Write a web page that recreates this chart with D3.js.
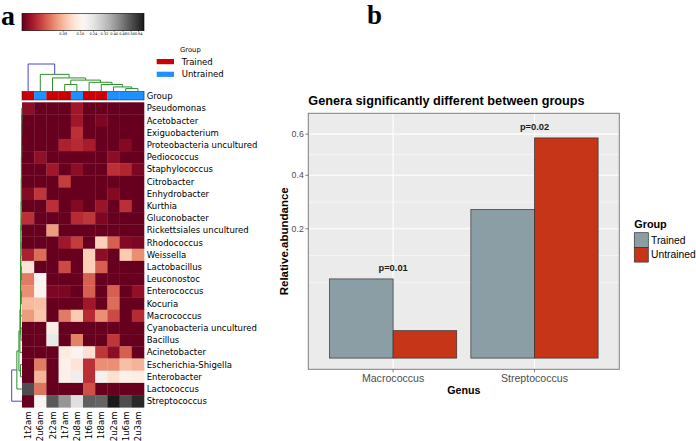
<!DOCTYPE html>
<html><head><meta charset="utf-8">
<script src="https://cdn.jsdelivr.net/npm/d3@7"></script>
<style>body{margin:0;background:#fff} svg{display:block}</style>
</head><body>
<svg id="c" width="696" height="441"></svg>
<script>
// ---------------- Panel a data ----------------
const genera = ["Pseudomonas","Acetobacter","Exiguobacterium","Proteobacteria uncultured","Pediococcus","Staphylococcus","Citrobacter","Enhydrobacter","Kurthia","Gluconobacter","Rickettsiales uncultured","Rhodococcus","Weissella","Lactobacillus","Leuconostoc","Enterococcus","Kocuria","Macrococcus","Cyanobacteria uncultured","Bacillus","Acinetobacter","Escherichia-Shigella","Enterobacter","Lactococcus","Streptococcus"];
const samples = ["1t2am","2u6am","2t2am","1t7am","2u8am","1t6am","1t8am","2u2am","1u6am","2u3am"];
const sampleGroup = ["Trained","Untrained","Trained","Trained","Untrained","Trained","Trained","Untrained","Untrained","Untrained"];
const groupNames = ["Trained","Untrained"];
const abundance = [
  [0.0018,0,0,0,0.0045,0,0,0,0,0],
  [0,0,0,0,0.0045,0,0.0006,0,0,0],
  [0,0,0,0,0.0118,0,0,0,0,0],
  [0,0,0,0.007,0.010,0.0057,0,0,0.0011,0],
  [0,0.0025,0,0,0,0,0,0.0018,0,0],
  [0,0,0.0045,0,0.0018,0,0,0.0118,0.0085,0.0006],
  [0,0,0,0.0158,0,0,0,0,0,0],
  [0.0011,0.0137,0,0,0,0,0,0.0011,0,0],
  [0,0,0.0118,0,0.0011,0,0.0034,0,0.0118,0],
  [0.0118,0,0,0,0.010,0.0137,0.0006,0,0,0],
  [0,0,0.0589,0,0,0,0,0,0,0],
  [0,0,0,0.0045,0.0158,0,0.101,0.028,0.0011,0.0006],
  [0.007,0.0339,0,0,0,0.101,0.0018,0,0.0958,0.051],
  [0.129,0,0,0.0202,0,0.101,0.028,0,0,0],
  [0.0403,0.168,0,0,0,0.028,0,0,0,0],
  [0.051,0.168,0.0006,0.0006,0,0.028,0,0.028,0,0.0025],
  [0.0809,0.0858,0,0,0,0.0045,0,0.0339,0,0],
  [0.0589,0.0907,0,0.0403,0.0958,0.010,0.051,0.0202,0,0.010],
  [0,0,0.148,0,0,0,0,0,0,0],
  [0,0,0.227,0,0.0438,0,0,0.0137,0,0],
  [0,0,0,0.142,0.168,0.123,0.0137,0.0018,0.028,0],
  [0,0.0403,0,0.155,0.129,0.0118,0.051,0.051,0.0858,0.0762],
  [0,0.0762,0,0.155,0.212,0.0118,0.197,0.123,0.155,0.148],
  [0.567,0.037,0,0,0,0.0227,0,0,0,0],
  [0,0.175,0.542,0.415,0.252,0.530,0.518,0.70,0.567,0.659]
];
const colorbarTicks = [0.08,0.16,0.24,0.32,0.40,0.48,0.56,0.64];
const colorbarMax = 0.7;
// linkage rows: [childA, childB, height]; new nodes numbered after leaves
const colLinks = [[8,9,0.10],[7,10,0.16],[6,11,0.25],[3,4,0.25],[5,12,0.33],[13,14,0.41],[2,15,0.49],[1,16,0.62],[0,17,1.0]];
const rowLinks = [[0,1,0.02],[25,2,0.03],[3,4,0.03],[26,27,0.04],[5,6,0.04],[28,29,0.05],[7,8,0.04],[30,31,0.06],[9,10,0.06],[32,33,0.07],[11,12,0.08],[34,35,0.09],[13,14,0.08],[15,16,0.07],[37,38,0.1],[36,39,0.11],[17,40,0.13],[18,19,0.1],[41,42,0.15],[20,43,0.2],[21,22,0.15],[44,45,0.3],[23,46,0.5],[24,47,1.0]];

// ---------------- Panel b data ----------------
const genusB = ["Macrococcus","Streptococcus"];
const trainedMean = [0.075, 0.264];
const untrainedMean = [0.009, 0.580];
const pLabels = ["p=0.01","p=0.02"];
const yTicksB = [0.2, 0.4, 0.6];
const groupColors = {Trained:"#8b9da5", Untrained:"#c73518"};
const heatGroupColors = {Trained:"#cc0000", Untrained:"#1e90ff"};

const svg = d3.select("#c");
const SANS_A = "DejaVu Sans";
const SANS_B = "Liberation Sans, Arial, sans-serif";

// ===== Panel letters =====
svg.append("text").attr("x",1).attr("y",25.2).attr("font-family","Liberation Serif").attr("font-weight","bold").attr("font-size",28).text("a");
svg.append("text").attr("x",367).attr("y",24.4).attr("font-family","Liberation Serif").attr("font-weight","bold").attr("font-size",27).text("b");

// ===== Panel a =====
const A = svg.append("g");
const hmX = d3.scaleBand().domain(samples).range([22,144]);
const hmY = d3.scaleBand().domain(genera).range([102.3,407.3]);
const heatColor = d3.scaleSequentialSqrt(d3.interpolateRdGy).domain([0, colorbarMax]);

// colorbar
const cbX = d3.scaleSqrt().domain([0, colorbarMax]).range([22,144]);
const defs = svg.append("defs");
const grad = defs.append("linearGradient").attr("id","cbg").attr("x1","0%").attr("x2","100%");
d3.range(0,1.0001,0.02).forEach(t=>grad.append("stop").attr("offset",(t*100)+"%").attr("stop-color",d3.interpolateRdGy(t)));
A.append("rect").attr("x",cbX(0)).attr("y",13.3).attr("width",cbX(colorbarMax)-cbX(0)).attr("height",17.4)
  .attr("fill","url(#cbg)").attr("stroke","#000").attr("stroke-width",0.6);
colorbarTicks.forEach(v=>{
  A.append("line").attr("x1",cbX(v)).attr("x2",cbX(v)).attr("y1",30.7).attr("y2",32.2).attr("stroke","#000").attr("stroke-width",0.4);
  A.append("text").attr("x",cbX(v)).attr("y",35.2).attr("text-anchor","middle").attr("font-family",SANS_A).attr("font-size",3.5).text(v.toFixed(2));
});

// group legend
A.append("text").attr("x",180).attr("y",51.5).attr("font-family",SANS_A).attr("font-size",6.8).text("Group");
groupNames.forEach((g,i)=>{
  const yy = 59 + i*12.7;
  A.append("rect").attr("x",156.7).attr("y",yy).attr("width",17.3).attr("height",5.2).attr("fill",heatGroupColors[g]);
  A.append("text").attr("x",181.7).attr("y",yy+2.6).attr("dy","0.36em").attr("font-family",SANS_A).attr("font-size",8.5).text(g);
});

// group row
samples.forEach((s,c)=>{
  A.append("rect").attr("x",hmX(s)).attr("y",91.3).attr("width",hmX.bandwidth()+0.2).attr("height",8.7).attr("fill",heatGroupColors[sampleGroup[c]]);
});
A.append("rect").attr("x",22).attr("y",91.3).attr("width",122).attr("height",8.7).attr("fill","none").attr("stroke","#223").attr("stroke-width",0.5);
A.append("text").attr("x",146.7).attr("y",95.6).attr("dy","0.36em").attr("font-family",SANS_A).attr("font-size",8.5).text("Group");

// heatmap cells
abundance.forEach((row,r)=>{
  row.forEach((v,c)=>{
    A.append("rect").attr("x",hmX(samples[c])).attr("y",hmY(genera[r]))
      .attr("width",hmX.bandwidth()+0.3).attr("height",hmY.bandwidth()+0.3).attr("fill",heatColor(v));
  });
});
// row labels
genera.forEach(g=>{
  A.append("text").attr("x",146.7).attr("y",hmY(g)+hmY.bandwidth()/2).attr("dy","0.36em")
    .attr("font-family",SANS_A).attr("font-size",8.5).text(g);
});
// column labels
samples.forEach(s=>{
  A.append("text").attr("transform",`translate(${hmX(s)+hmX.bandwidth()/2},411.5) rotate(-90)`)
    .attr("dy","0.36em").attr("text-anchor","end").attr("font-family",SANS_A).attr("font-size",8.5).text(s);
});

// dendrograms
function dendro(links, nLeaves, leafPos, hScale, vertical){
  const pos = [], ht = [];
  for(let i=0;i<nLeaves;i++){pos[i]=leafPos(i); ht[i]=0;}
  links.forEach((l,k)=>{
    const [a,b,h] = l, id = nLeaves+k;
    pos[id] = (pos[a]+pos[b])/2; ht[id]=h;
    const col = (k===links.length-1) ? "#4646cc" : "#2a8f2a";
    let d;
    if(vertical){
      d = `M${pos[a]},${hScale(ht[a])}V${hScale(h)}H${pos[b]}V${hScale(ht[b])}`;
    } else {
      d = `M${hScale(ht[a])},${pos[a]}H${hScale(h)}V${pos[b]}H${hScale(ht[b])}`;
    }
    A.append("path").attr("d",d).attr("fill","none").attr("stroke",col).attr("stroke-width",1);
  });
}
dendro(colLinks, samples.length, i=>hmX(samples[i])+hmX.bandwidth()/2, d3.scaleLinear().domain([0,1]).range([91.3,64]), true);
dendro(rowLinks, genera.length, i=>hmY(genera[i])+hmY.bandwidth()/2, d3.scaleLinear().domain([0,1]).range([22,11.7]), false);

// ===== Panel b =====
const B = svg.append("g");
const px0=308.3, px1=619.3, py0=113.3, py1=369.3;
const yB = d3.scaleSqrt().domain([-0.0015, 0.717]).range([py1, py0]);
const xB = d3.scaleLinear().domain([0.4, 2.6]).range([px0, px1]);

B.append("rect").attr("x",px0).attr("y",py0).attr("width",px1-px0).attr("height",py1-py0).attr("fill","#ebebeb");
// minor breaks (ggplot rule, computed in sqrt space)
const tb = yTicksB.map(Math.sqrt);
const bd = tb[1]-tb[0];
const ext = [tb[0]-bd, ...tb, tb[tb.length-1]+bd];
const minorT = [];
for(let i=0;i<ext.length-1;i++){ minorT.push((ext[i]+ext[i+1])/2); }
minorT.push(ext[0]);
const tLo = Math.sqrt(Math.max(0,yB.domain()[0])), tHi = Math.sqrt(yB.domain()[1]);
minorT.filter(t=>t>tLo && t<tHi).forEach(t=>{
  const yy = yB(t*t);
  B.append("line").attr("x1",px0).attr("x2",px1).attr("y1",yy).attr("y2",yy).attr("stroke","#fff").attr("stroke-width",0.55);
});
yTicksB.forEach(v=>{
  B.append("line").attr("x1",px0).attr("x2",px1).attr("y1",yB(v)).attr("y2",yB(v)).attr("stroke","#fff").attr("stroke-width",1.1);
});
genusB.forEach((g,i)=>{
  B.append("line").attr("x1",xB(i+1)).attr("x2",xB(i+1)).attr("y1",py0).attr("y2",py1).attr("stroke","#fff").attr("stroke-width",1.1);
});
// bars
const dodge = 0.45;
genusB.forEach((g,i)=>{
  const c = i+1;
  B.append("rect").attr("x",xB(c-dodge)).attr("y",yB(trainedMean[i])).attr("width",xB(c)-xB(c-dodge)).attr("height",yB(0)-yB(trainedMean[i]))
    .attr("fill",groupColors.Trained).attr("stroke","#333").attr("stroke-width",0.7);
  B.append("rect").attr("x",xB(c)).attr("y",yB(untrainedMean[i])).attr("width",xB(c+dodge)-xB(c)).attr("height",yB(0)-yB(untrainedMean[i]))
    .attr("fill",groupColors.Untrained).attr("stroke","#333").attr("stroke-width",0.7);
  const top = Math.max(trainedMean[i], untrainedMean[i]);
  B.append("text").attr("x",xB(c)).attr("y",yB(top)-8.3).attr("text-anchor","middle")
    .attr("font-family",SANS_B).attr("font-weight","bold").attr("font-size",9.3).attr("fill","#1a1a1a").text(pLabels[i]);
});
B.append("rect").attr("x",px0).attr("y",py0).attr("width",px1-px0).attr("height",py1-py0).attr("fill","none").attr("stroke","#7f7f7f").attr("stroke-width",1);
// y axis
yTicksB.forEach(v=>{
  B.append("line").attr("x1",px0-3).attr("x2",px0).attr("y1",yB(v)).attr("y2",yB(v)).attr("stroke","#333").attr("stroke-width",0.6);
  B.append("text").attr("x",px0-4.5).attr("y",yB(v)).attr("dy","0.35em").attr("text-anchor","end")
    .attr("font-family",SANS_B).attr("font-size",8.8).attr("fill","#4d4d4d").text(v.toFixed(1));
});
// x axis
genusB.forEach((g,i)=>{
  B.append("line").attr("x1",xB(i+1)).attr("x2",xB(i+1)).attr("y1",py1).attr("y2",py1+3).attr("stroke","#333").attr("stroke-width",0.6);
  B.append("text").attr("x",xB(i+1)).attr("y",381.6).attr("text-anchor","middle")
    .attr("font-family",SANS_B).attr("font-size",10.6).attr("fill","#4d4d4d").text(g);
});
B.append("text").attr("x",(px0+px1)/2).attr("y",394.4).attr("text-anchor","middle")
  .attr("font-family",SANS_B).attr("font-weight","bold").attr("font-size",10.7).attr("fill","#000").text("Genus");
B.append("text").attr("transform",`translate(288.3,${(py0+py1)/2}) rotate(-90)`).attr("text-anchor","middle")
  .attr("font-family",SANS_B).attr("font-weight","bold").attr("font-size",11.5).attr("fill","#000").text("Relative.abundance");
B.append("text").attr("x",px0).attr("y",105).attr("font-family",SANS_B).attr("font-weight","bold").attr("font-size",12.7).attr("fill","#000")
  .text("Genera significantly different between groups");
// legend
B.append("text").attr("x",634.3).attr("y",228.3).attr("font-family",SANS_B).attr("font-weight","bold").attr("font-size",10.8).text("Group");
groupNames.forEach((g,i)=>{
  const yy = 232.7 + i*14.7;
  B.append("rect").attr("x",634.3).attr("y",yy).attr("width",14).attr("height",14.7)
    .attr("fill",groupColors[g]).attr("stroke","#333").attr("stroke-width",0.7);
  B.append("text").attr("x",651).attr("y",yy+7.35).attr("dy","0.35em").attr("font-family",SANS_B).attr("font-size",10.3).text(g);
});
</script>
</body></html>
